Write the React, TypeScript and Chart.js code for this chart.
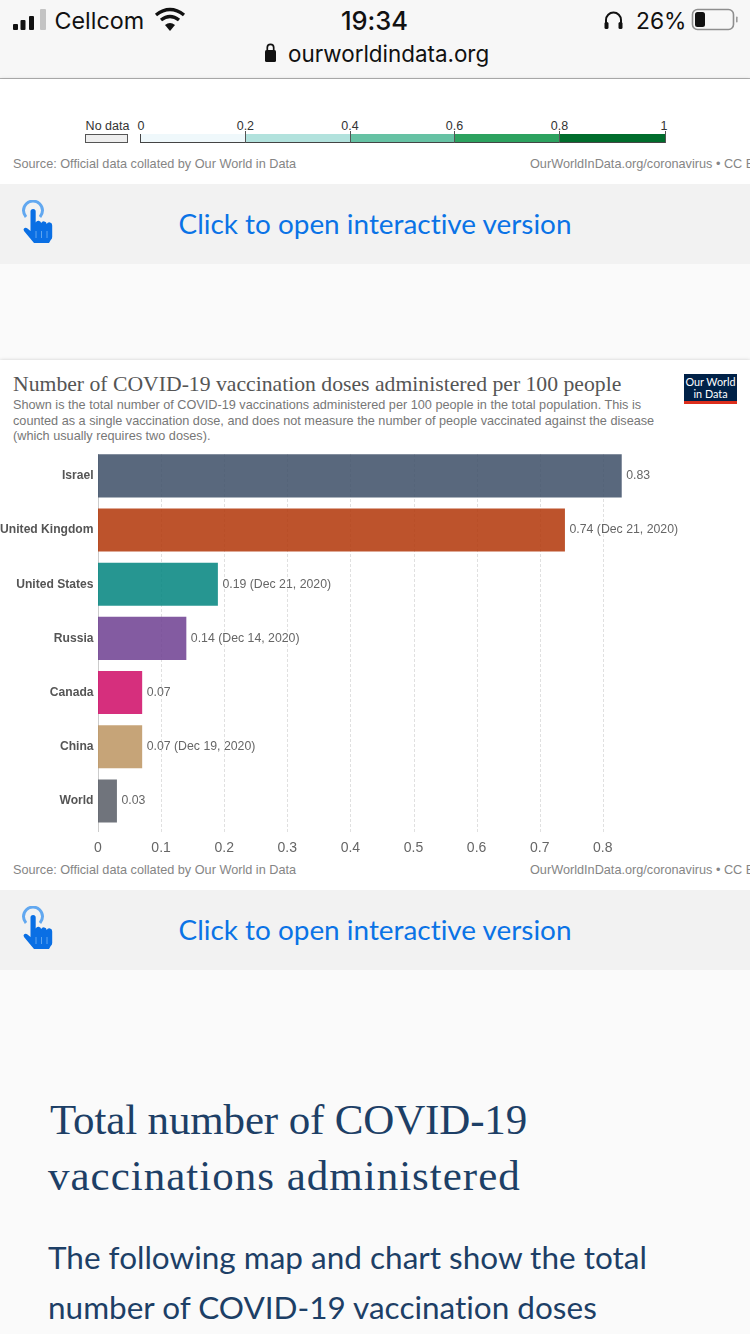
import React, { useEffect, useRef } from "react";
import { Chart, registerables } from "chart.js";

Chart.register(...registerables);

const countries = ["Israel", "United Kingdom", "United States", "Russia", "Canada", "China", "World"];
const doses = [0.83, 0.74, 0.19, 0.14, 0.07, 0.07, 0.03];
const dateNotes = ["", "(Dec 21, 2020)", "(Dec 21, 2020)", "(Dec 14, 2020)", "", "(Dec 19, 2020)", ""];
const barColors = ["#3c4e66d9", "#b13507d9", "#00847ed9", "#6d3e91d9", "#cf0a66d9", "#bc9460d9", "#575c65d9"];
const xMax = 1;
const lastTick = 0.8;

const legendStops = ["0", "0.2", "0.4", "0.6", "0.8", "1"];
const legendColors = ["#eff8fb", "#b2e2dd", "#66c2a4", "#2ca25f", "#006d2c"];
const legendEdges = [140, 245.4, 350, 454.5, 559.5, 665];

const SANS = '"Liberation Sans", Arial, sans-serif';
const LATO = 'Lato, sans-serif';
const SERIF = '"Liberation Serif", serif';
const CANVAS_TOP = 437;

const overlayPlugin = {
  id: "owidOverlay",
  beforeDatasetsDraw(chart: any) {
    const { ctx, scales } = chart;
    const top = 454 - CANVAS_TOP;
    const bottom = 832 - CANVAS_TOP;
    ctx.save();
    ctx.lineWidth = 1;
    scales.x.ticks.forEach((t: any) => {
      const x = Math.round(scales.x.getPixelForValue(t.value)) + 0.5;
      ctx.beginPath();
      ctx.strokeStyle = t.value === 0 ? "#cccccc" : "#e0e0e0";
      ctx.setLineDash(t.value === 0 ? [] : [3, 2]);
      ctx.moveTo(x, top);
      ctx.lineTo(x, bottom);
      ctx.stroke();
    });
    ctx.restore();
  },
  afterDatasetsDraw(chart: any) {
    const { ctx } = chart;
    const meta = chart.getDatasetMeta(0);
    ctx.save();
    ctx.font = `12.3px ${SANS}`;
    ctx.fillStyle = "#666666";
    ctx.textAlign = "left";
    ctx.textBaseline = "middle";
    meta.data.forEach((bar: any, i: number) => {
      const label = `${doses[i].toFixed(2)}${dateNotes[i] ? " " + dateNotes[i] : ""}`;
      ctx.fillText(label, bar.x + 4.5, bar.y);
    });
    ctx.restore();
  },
};

function T({ x, y, size, color, font, children, weight, anchor, spacing }: any) {
  const tx = anchor === "middle" ? "-50%" : anchor === "end" ? "-100%" : "0";
  return (
    <div
      style={{
        position: "absolute",
        left: x,
        top: y,
        transform: `translate(${tx}, -50%)`,
        fontSize: size,
        color,
        fontFamily: font,
        fontWeight: weight || 400,
        letterSpacing: spacing || 0,
        fontVariantLigatures: "none",
        whiteSpace: "nowrap",
        lineHeight: 1,
      }}
    >
      {children}
    </div>
  );
}

function Box({ x, y, w, h, bg, shadow, border }: any) {
  return (
    <div
      style={{
        position: "absolute",
        left: x,
        top: y,
        width: w,
        height: h,
        background: bg,
        boxShadow: shadow,
        border,
        boxSizing: "border-box",
      }}
    />
  );
}

function Hand({ y }: { y: number }) {
  return (
    <svg style={{ position: "absolute", left: 20, top: y, width: 36, height: 46 }} viewBox="0 0 36 46">
      <path d="M6 17 A 9.5 9.5 0 1 1 20 17" fill="none" stroke="#62a8f0" strokeWidth="3" />
      <path
        d="M10.5 11.5 a2.6 2.6 0 0 1 5.2 0 V22.5 a2.9 2.9 0 0 1 5.5 0.5 a2.9 2.9 0 0 1 5.5 1 a2.9 2.9 0 0 1 5.5 1.5 V37 q0 2 -1.5 3 L29 43 H14 L4 31 q-1.2 -2 0.5 -3 q1.5 -0.8 3 0.6 L10.5 31 Z"
        fill="#0a6fe4"
      />
      <path d="M16 31 v7 M21.5 31 v7 M27 31 v7" stroke="#5ea5ef" strokeWidth="1" />
    </svg>
  );
}

export default function App() {
  const ref = useRef<HTMLCanvasElement>(null);

  useEffect(() => {
    const chart = new Chart(ref.current as HTMLCanvasElement, {
      type: "bar",
      data: {
        labels: countries,
        datasets: [
          {
            data: doses,
            backgroundColor: barColors,
            barPercentage: 0.795,
            categoryPercentage: 1,
            borderWidth: 0,
          },
        ],
      },
      plugins: [overlayPlugin],
      options: {
        indexAxis: "y",
        animation: false,
        responsive: false,
        devicePixelRatio: 1,
        layout: { padding: { top: 5.6, right: 21, left: 0, bottom: 0 } },
        plugins: { legend: { display: false }, tooltip: { enabled: false }, title: { display: false } },
        scales: {
          x: {
            type: "linear",
            min: 0,
            max: xMax,
            grid: { display: false },
            border: { display: false },
            afterFit: (s: any) => {
              s.height = 32;
            },
            afterBuildTicks: (s: any) => {
              s.ticks = s.ticks.filter((t: any) => t.value <= lastTick + 1e-6);
            },
            ticks: {
              stepSize: 0.1,
              padding: 4,
              maxRotation: 0,
              autoSkip: false,
              color: "#666666",
              font: { family: "Liberation Sans", size: 14 },
              callback: (v: any) => String(Math.round(Number(v) * 10) / 10),
            },
          },
          y: {
            type: "category",
            grid: { display: false, drawTicks: false },
            border: { display: false },
            afterFit: (s: any) => {
              s.width = 98;
            },
            ticks: {
              padding: 4.5,
              color: "#555555",
              autoSkip: false,
              font: { family: "Liberation Sans", size: 12.1, weight: "bold" },
            },
          },
        },
      },
    } as any);
    return () => chart.destroy();
  }, []);

  return (
    <div
      style={{
        position: "absolute",
        left: 0,
        top: 0,
        width: 750,
        height: 1334,
        overflow: "hidden",
        background: "#fafafa",
      }}
    >
      {/* browser chrome */}
      <Box x={0} y={0} w={750} h={79} bg="#f7f7f7" border="none" />
      <Box x={0} y={78} w={750} h={1} bg="#b4b4b4" />
      <svg style={{ position: "absolute", left: 0, top: 0, width: 750, height: 80 }} viewBox="0 0 750 80">
        <rect x="13" y="24" width="5" height="6" rx="1" fill="#111" />
        <rect x="20.5" y="20" width="5" height="10" rx="1" fill="#111" />
        <rect x="29" y="16" width="5" height="14" rx="1" fill="#111" />
        <rect x="40" y="9" width="6" height="21" rx="1" fill="#c4c4c4" />
        <path d="M156 15 Q170 4 184 15" fill="none" stroke="#111" strokeWidth="3.4" />
        <path d="M161 20 Q170 13 179 20" fill="none" stroke="#111" strokeWidth="3.4" />
        <path d="M165 25 L170 31 L175 25 Q170 21 165 25 Z" fill="#111" />
        <path d="M606 27 V20 a7.5 7.5 0 0 1 15 0 V27" fill="none" stroke="#111" strokeWidth="2" />
        <rect x="604.5" y="22" width="4" height="7" rx="1.5" fill="#111" />
        <rect x="618.5" y="22" width="4" height="7" rx="1.5" fill="#111" />
        <rect x="692.5" y="9.5" width="41" height="20" rx="5" fill="none" stroke="#8e8e8e" strokeWidth="1.6" />
        <rect x="695" y="12" width="10" height="15" rx="2.5" fill="#111" />
        <rect x="736" y="16.5" width="1.6" height="6" rx="0.8" fill="#9a9a9a" />
        <rect x="265" y="50" width="11" height="12" rx="1.5" fill="#111" />
        <path d="M267.3 50 V47.5 a3.2 3.2 0 0 1 6.4 0 V50" fill="none" stroke="#111" strokeWidth="1.7" />
      </svg>
      <T x={54.5} y={21} size={23.3} color="#111" font="Inter, sans-serif">Cellcom</T>
      <T x={374.5} y={21} size={25.5} color="#111" font="Inter, sans-serif" weight={500} anchor="middle">19:34</T>
      <T x={636} y={21} size={22.8} color="#111" font="Inter, sans-serif">26%</T>
      <T x={288} y={54} size={22.4} color="#111" font="Inter, sans-serif">ourworldindata.org</T>

      {/* upper card: map legend */}
      <Box x={0} y={79} w={750} h={105} bg="#ffffff" shadow="0 1px 4px rgba(0,0,0,0.3)" />
      <Box x={85} y={133.5} w={43} h={9.5} bg="#eeeeee" border="1px solid #555" />
      <T x={107.5} y={126} size={12.5} color="#333" font={SANS} anchor="middle">No data</T>
      {legendColors.map((c, i) => (
        <Box
          key={c}
          x={legendEdges[i]}
          y={133.5}
          w={legendEdges[i + 1] - legendEdges[i]}
          h={9.5}
          bg={c}
          border="none"
        />
      ))}
      <Box x={140} y={142} w={525} h={1} bg="#444" />
      <Box x={140} y={133.5} w={1} h={9.5} bg="#444" />
      {legendEdges.slice(1).map((x) => (
        <Box key={x} x={x - 0.5} y={131} w={1} h={12} bg="#555" />
      ))}
      {legendStops.map((s, i) => (
        <T
          key={s}
          x={i === legendStops.length - 1 ? legendEdges[i] - 1 : legendEdges[i] + (i === 0 ? 1 : 0)}
          y={126}
          size={12.5}
          color="#333"
          font={SANS}
          anchor="middle"
        >
          {s}
        </T>
      ))}
      <T x={13} y={164} size={12.7} color="#858585" font={SANS}>Source: Official data collated by Our World in Data</T>
      <T x={530} y={164} size={12.7} color="#858585" font={SANS}>OurWorldInData.org/coronavirus  •  CC BY</T>

      {/* band 1 */}
      <Box x={0} y={184} w={750} h={80} bg="#f2f2f2" />
      <Hand y={200} />
      <T x={375} y={224} size={27.9} color="#0a73e6" font={LATO} anchor="middle">Click to open interactive version</T>

      {/* main chart card */}
      <Box x={0} y={360} w={750} h={530} bg="#ffffff" shadow="0 1px 4px rgba(0,0,0,0.3)" />
      <T x={13} y={385} size={21.7} color="#555" font={SERIF}>Number of COVID-19 vaccination doses administered per 100 people</T>
      <T x={13} y={404.5} size={12.7} color="#777" font={SANS}>Shown is the total number of COVID-19 vaccinations administered per 100 people in the total population. This is</T>
      <T x={13} y={420.5} size={12.7} color="#777" font={SANS}>counted as a single vaccination dose, and does not measure the number of people vaccinated against the disease</T>
      <T x={13} y={435.5} size={12.7} color="#777" font={SANS}>(which usually requires two doses).</T>
      <Box x={684} y={374} w={53} h={27} bg="#002147" />
      <Box x={684} y={401} w={53} h={3} bg="#dc2e1c" />
      <T x={710.5} y={382} size={10.8} color="#fff" font={LATO} anchor="middle">Our World</T>
      <T x={710.5} y={393.5} size={10.8} color="#fff" font={LATO} anchor="middle">in Data</T>
      <canvas
        ref={ref}
        width={750}
        height={423}
        style={{ position: "absolute", left: 0, top: CANVAS_TOP, width: 750, height: 423 }}
      />
      <T x={13} y={870} size={12.7} color="#858585" font={SANS}>Source: Official data collated by Our World in Data</T>
      <T x={530} y={870} size={12.7} color="#858585" font={SANS}>OurWorldInData.org/coronavirus  •  CC BY</T>

      {/* band 2 */}
      <Box x={0} y={890} w={750} h={80} bg="#f2f2f2" />
      <Hand y={906} />
      <T x={375} y={930} size={27.9} color="#0a73e6" font={LATO} anchor="middle">Click to open interactive version</T>

      {/* article text */}
      <T x={50} y={1119} size={43} color="#1d3f66" font={SERIF} spacing={-0.15}>Total number of COVID-19</T>
      <T x={48} y={1175} size={43} color="#1d3f66" font={SERIF} spacing={1}>vaccinations administered</T>
      <T x={48} y={1258} size={31.5} color="#1d3f66" font={LATO}>The following map and chart show the total</T>
      <T x={48} y={1308} size={31.5} color="#1d3f66" font={LATO}>number of COVID-19 vaccination doses</T>
    </div>
  );
}
